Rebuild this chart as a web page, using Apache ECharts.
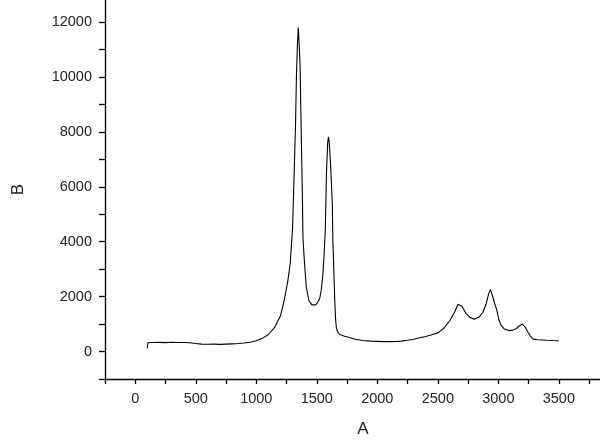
<!DOCTYPE html>
<html>
<head>
<meta charset="utf-8">
<script src="https://cdn.jsdelivr.net/npm/echarts@6/dist/echarts.min.js"></script>
<style>
  html, body { margin: 0; padding: 0; background: #fff; }
  #chart { width: 600px; height: 443px; }
</style>
</head>
<body>
<div id="chart"></div>
<script>
// spectrum (A = x, B = y)
const xValues = [
  100, 104, 150, 200, 250, 300, 350, 400, 450, 500, 550, 600, 650, 700, 750, 800, 850, 900, 950,
  1000, 1050, 1100, 1150, 1200, 1230, 1245, 1260, 1280, 1300, 1315, 1325, 1332, 1340, 1347, 1352, 1362,
  1372, 1380, 1386, 1399, 1413, 1435, 1460, 1470, 1490, 1509, 1525, 1537, 1550, 1560, 1570, 1580,
  1590, 1596, 1603, 1614, 1628, 1633, 1640, 1647, 1655, 1662, 1675, 1690, 1730, 1770, 1820, 1880,
  1950, 2000, 2050, 2100, 2150, 2200, 2250, 2300, 2350, 2400, 2450, 2500, 2550, 2600, 2640, 2667,
  2680, 2700, 2730, 2763, 2800, 2840, 2873, 2900, 2920, 2935, 2950, 2970, 2985, 3005, 3025, 3050,
  3093, 3120, 3148, 3170, 3198, 3220, 3245, 3265, 3286, 3320, 3360, 3400, 3450, 3500
];
const yValues = [
  120, 320, 330, 335, 325, 340, 330, 330, 320, 290, 270, 265, 270, 260, 270, 280, 290, 310, 340,
  390, 480, 620, 870, 1300, 1850, 2200, 2550, 3200, 4500, 6800, 8400, 10100, 11200, 11800, 11400, 10400,
  7800, 5900, 4100, 3200, 2350, 1850, 1700, 1650, 1700, 1800, 1950, 2250, 2800, 3500, 4400, 6500,
  7600, 7820, 7600, 6800, 5400, 4000, 3100, 2000, 1200, 850, 700, 620, 560, 510, 450, 400,
  380, 370, 360, 360, 365, 380, 410, 450, 500, 550, 610, 680, 850, 1130, 1450, 1720,
  1780, 1650, 1400, 1250, 1180, 1250, 1430, 1750, 2100, 2260, 2050, 1750, 1550, 1150, 940, 820,
  760, 780, 830, 920, 1000, 900, 700, 560, 460, 430, 420, 410, 400, 395
];

const xTickValues = [-250, 0, 250, 500, 750, 1000, 1250, 1500, 1750, 2000, 2250, 2500, 2750, 3000, 3250, 3500, 3750];
const xLabelValues = [0, 500, 1000, 1500, 2000, 2500, 3000, 3500];
const yTickValues = [-1000, 0, 1000, 2000, 3000, 4000, 5000, 6000, 7000, 8000, 9000, 10000, 11000, 12000];
const yLabelValues = [0, 2000, 4000, 6000, 8000, 10000, 12000];

const points = xValues.map((x, i) => [x, yValues[i]]);

const chart = echarts.init(document.getElementById('chart'));

const axisText = {
  color: '#222',
  fontFamily: 'Liberation Sans, Arial, sans-serif',
  fontSize: 14.5,
  formatter: (v) => String(v)
};

chart.setOption({
  animation: false,
  backgroundColor: '#fff',
  grid: {
    left: 105,
    right: 0,
    top: 0,
    bottom: 64,
    containLabel: false,
    outerBoundsMode: 'none'
  },
  xAxis: {
    type: 'value',
    min: -250,
    max: 3840,
    name: 'A',
    nameLocation: 'middle',
    nameGap: 42,
    nameTextStyle: {
      color: '#222',
      fontFamily: 'Liberation Sans, Arial, sans-serif',
      fontSize: 17,
      padding: [0, 0, 0, 21]
    },
    axisLine: { onZero: false, lineStyle: { color: '#000', width: 1.3 } },
    axisTick: {
      customValues: xTickValues,
      length: 5,
      lineStyle: { color: '#000', width: 1.3 }
    },
    axisLabel: Object.assign({ customValues: xLabelValues, margin: 12 }, axisText),
    splitLine: { show: false }
  },
  yAxis: {
    type: 'value',
    min: -1000,
    max: 12800,
    name: 'B',
    nameLocation: 'middle',
    nameGap: 78,
    nameTextStyle: {
      color: '#222',
      fontFamily: 'Liberation Sans, Arial, sans-serif',
      fontSize: 17
    },
    axisLine: { show: true, onZero: false, lineStyle: { color: '#000', width: 1.3 } },
    axisTick: {
      show: true,
      customValues: yTickValues,
      length: 6,
      lineStyle: { color: '#000', width: 1.3 }
    },
    axisLabel: Object.assign({ customValues: yLabelValues, margin: 13 }, axisText),
    splitLine: { show: false }
  },
  series: [
    {
      type: 'line',
      data: points,
      showSymbol: false,
      smooth: false,
      lineStyle: { color: '#000', width: 1.1 },
      itemStyle: { color: '#000' }
    }
  ]
});
</script>
</body>
</html>
